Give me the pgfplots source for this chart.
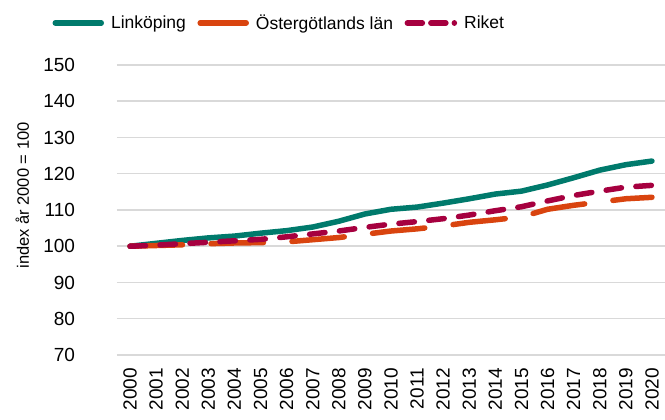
\documentclass[border=0pt]{standalone}
\usepackage{fontspec}
\setmainfont{Liberation Sans}
\usepackage{pgfplots}
\pgfplotsset{compat=1.18}
\definecolor{lkp}{HTML}{007A6C}
\definecolor{ostg}{HTML}{D9440F}
\definecolor{riket}{HTML}{A6003F}
\definecolor{gridc}{HTML}{D9D9D9}
\pgfplotsset{riketleg/.style={legend image code/.code={\draw[##1, dash pattern=on 15pt off 8.5pt] (0pt,0pt) -- (47pt,0pt);}}}
\pgfplotstableread{
year lkp ostg riket
2000 100.0 100.0 100.0
2001 100.8 100.2 100.3
2002 101.6 100.4 100.7
2003 102.3 100.7 101.1
2004 102.8 100.9 101.5
2005 103.6 101.0 101.9
2006 104.3 101.2 102.6
2007 105.3 101.8 103.4
2008 106.9 102.4 104.2
2009 108.9 103.3 105.2
2010 110.2 104.2 106.1
2011 110.8 104.8 106.8
2012 111.9 105.6 107.6
2013 113.1 106.6 108.6
2014 114.4 107.3 109.8
2015 115.2 108.1 110.9
2016 116.9 110.2 112.5
2017 118.9 111.3 114.0
2018 121.0 112.2 115.2
2019 122.5 113.1 116.3
2020 123.5 113.5 116.8
}\datatable
\begin{document}
\begin{tikzpicture}
\begin{axis}[
  scale only axis,
  width=548pt, height=290pt,
  xmin=1999.5, xmax=2020.5,
  ymin=70, ymax=150,
  xtick={2000,2001,...,2020},
  ytick={70,80,...,150},
  axis line style={draw=none},
  major tick length=0pt,
  ymajorgrids,
  grid style={draw=gridc, line width=1.5pt},
  /pgf/number format/assume math mode=true,
  /pgf/number format/1000 sep={},
  xticklabel style={rotate=90, anchor=east, inner xsep=13pt, inner ysep=0pt, font=\fontsize{19}{22}\selectfont},
  yticklabel style={font=\fontsize{19}{22}\selectfont, xshift=-38.5pt},
  ylabel={index år 2000 = 100},
  every axis y label/.style={at={(axis description cs:-0.173,0.55)}, rotate=90, anchor=center, font=\fontsize{16.5}{19}\selectfont},
  legend columns=3,
  legend style={at={(axis description cs:-0.118,1.145)}, anchor=west, draw=none, fill=none,
    font=\fontsize{17.5}{20}\selectfont, inner sep=0pt,
    /tikz/every odd column/.append style={column sep=5pt},
    /tikz/every even column/.append style={column sep=9.5pt}},
  legend image code/.code={\draw[#1] (0pt,0pt) -- (46pt,0pt);},
]
\addplot[lkp, line width=5.5pt, line cap=round, line join=round] table[x=year, y=lkp] {\datatable};
\addlegendentry{Linköping}
\addplot[ostg, line width=5.5pt, line cap=round, line join=round, dash pattern=on 52.5pt off 28.5pt] table[x=year, y=ostg] {\datatable};
\addlegendentry{Östergötlands län}
\addplot[riket, line width=5.5pt, line cap=round, line join=round, dash pattern=on 15.5pt off 14.5pt, riketleg] table[x=year, y=riket] {\datatable};
\addlegendentry{Riket}
\end{axis}
\pgfresetboundingbox
\path ([xshift=-117pt,yshift=-65pt]current axis.south west) rectangle ([yshift=65pt]current axis.north east);
\end{tikzpicture}
\end{document}
